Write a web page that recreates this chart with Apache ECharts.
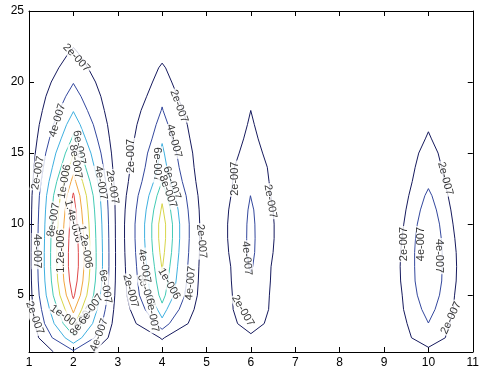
<!DOCTYPE html>
<html>
<head>
<meta charset="utf-8">
<script src="https://cdn.jsdelivr.net/npm/echarts@6/dist/echarts.min.js"></script>
<style>
html,body{margin:0;padding:0;background:#fff;}
#chart{width:482px;height:372px;}
</style>
</head>
<body>
<div id="chart"></div>
<script>
// ---- axis ticks ----
const xTicks = [1,2,3,4,5,6,7,8,9,10,11];
const yTicks = [5,10,15,20,25];

// ---- contour lines: rows of [y, xLeft, xRight] (data units) ----
// Peak at x = 2
const p1_2e7 = [[1,1.55,2.45],[2,1.218,2.782],[3,1.128,2.872],[4,1.091,2.909],[5,1.066,2.934],[6,1.055,2.945],[7,1.05,2.95],[8,1.05,2.95],[9,1.053,2.947],[10,1.055,2.945],[11,1.06,2.94],[12,1.068,2.932],[13,1.088,2.912],[14,1.114,2.886],[15,1.142,2.858],[16,1.184,2.816],[17,1.231,2.769],[18,1.302,2.698],[19,1.382,2.618],[20,1.501,2.499],[21,1.671,2.329],[22,1.883,2.117],[22.43,2,2]];
const p1_4e7 = [[1.1,2,2],[2,1.524,2.476],[3,1.351,2.649],[4,1.281,2.719],[5,1.229,2.771],[6,1.208,2.792],[7,1.199,2.801],[8,1.199,2.801],[9,1.202,2.798],[10,1.208,2.792],[11,1.218,2.782],[12,1.234,2.766],[13,1.272,2.728],[14,1.323,2.677],[15,1.378,2.622],[16,1.46,2.54],[17,1.55,2.45],[18,1.683,2.317],[19,1.83,2.17],[19.9,2,2]];
const p1_6e7 = [[1.615,2,2],[2,1.813,2.187],[3,1.567,2.433],[4,1.464,2.536],[5,1.388,2.612],[6,1.358,2.642],[7,1.344,2.656],[8,1.344,2.656],[9,1.35,2.65],[10,1.358,2.642],[11,1.373,2.627],[12,1.396,2.604],[13,1.451,2.549],[14,1.527,2.473],[15,1.605,2.395],[16,1.723,2.277],[17,1.847,2.153],[17.92,2,2]];
const p1_8e7 = [[2.17,2,2],[3,1.773,2.227],[4,1.642,2.358],[5,1.545,2.455],[6,1.505,2.495],[7,1.487,2.513],[8,1.487,2.513],[9,1.494,2.506],[10,1.505,2.495],[11,1.524,2.476],[12,1.553,2.447],[13,1.626,2.374],[14,1.723,2.277],[15,1.821,2.179],[16,1.961,2.039],[16.33,2,2]];
const p1_1e6 = [[2.83,2,2],[3,1.961,2.039],[4,1.813,2.187],[5,1.696,2.304],[6,1.648,2.352],[7,1.626,2.374],[8,1.626,2.374],[9,1.635,2.365],[10,1.648,2.352],[11,1.671,2.329],[12,1.706,2.294],[13,1.793,2.207],[14,1.906,2.094],[14.92,2,2]];
const p1_12e7 = [[3.75,2,2],[4,1.968,2.032],[5,1.841,2.159],[6,1.786,2.214],[7,1.761,2.239],[8,1.761,2.239],[9,1.77,2.23],[10,1.786,2.214],[11,1.813,2.187],[12,1.853,2.147],[13,1.948,2.052],[13.5,2,2]];
const p1_14e7 = [[4.75,2,2],[5,1.973,2.027],[6,1.916,2.084],[7,1.888,2.112],[8,1.888,2.112],[9,1.899,2.101],[10,1.916,2.084],[11,1.944,2.056],[12,1.984,2.016],[12.2,2,2]];
// Peak at x = 4
const p2_2e7 = [[1.875,4,4],[2,3.951,4.049],[3,3.415,4.585],[4,3.28,4.72],[5,3.206,4.794],[6,3.185,4.815],[7,3.172,4.828],[8,3.16,4.84],[9,3.153,4.847],[10,3.153,4.847],[11,3.166,4.834],[12,3.192,4.808],[13,3.24,4.76],[14,3.28,4.72],[15,3.312,4.688],[16,3.373,4.627],[17,3.433,4.567],[18,3.525,4.475],[19,3.653,4.347],[20,3.784,4.216],[21,3.922,4.078],[21.33,4,4]];
const p2_4e7 = [[2.6,4,4],[3,3.837,4.163],[4,3.617,4.383],[5,3.488,4.512],[6,3.448,4.552],[7,3.424,4.576],[8,3.402,4.598],[9,3.389,4.611],[10,3.389,4.611],[11,3.415,4.585],[12,3.459,4.541],[13,3.546,4.454],[14,3.617,4.383],[15,3.672,4.328],[16,3.772,4.228],[17,3.865,4.135],[18,3.979,4.021],[18.25,4,4]];
const p2_6e7 = [[3.4,4,4],[4,3.893,4.107],[5,3.736,4.264],[6,3.686,4.314],[7,3.652,4.348],[8,3.623,4.377],[9,3.605,4.395],[10,3.605,4.395],[11,3.64,4.36],[12,3.701,4.299],[13,3.81,4.19],[14,3.893,4.107],[15,3.951,4.049],[15.67,4,4]];
const p2_8e7 = [[4.44,4,4],[5,3.928,4.072],[6,3.869,4.131],[7,3.827,4.173],[8,3.788,4.212],[9,3.767,4.233],[10,3.767,4.233],[11,3.811,4.189],[12,3.885,4.115],[13,3.995,4.005],[13.11,4,4]];
const p2_1e6 = [[6.6,4,4],[7,3.989,4.011],[8,3.949,4.051],[9,3.922,4.078],[10,3.922,4.078],[11,3.974,4.026],[11.44,4,4]];
// Peak at x = 6
const p3_2e7 = [[2.29,6,6],[3,5.70,6.30],[4,5.60,6.40],[5,5.583,6.417],[6,5.56,6.44],[7,5.546,6.454],[8,5.5,6.5],[9,5.476,6.524],[10,5.476,6.524],[11,5.5,6.5],[12,5.551,6.449],[13,5.591,6.409],[14,5.63,6.37],[15,5.736,6.264],[16,5.836,6.164],[17,5.922,6.078],[18,5.997,6.003],[18.05,6,6]];
const p3_4e7 = [[6.6,6,6],[7,5.96,6.04],[8,5.915,6.085],[9,5.905,6.095],[10,5.91,6.09],[11,5.935,6.065],[12,5.99,6.01],[12.07,6,6]];
// Peak at x = 10
const p4_2e7 = [[1.33,10,10],[2,9.62,10.38],[3,9.52,10.48],[4,9.44,10.56],[5,9.41,10.59],[6,9.374,10.626],[7,9.364,10.636],[8,9.374,10.626],[9,9.404,10.596],[10,9.445,10.555],[11,9.494,10.506],[12,9.557,10.443],[13,9.636,10.364],[14,9.702,10.298],[15,9.782,10.218],[16,9.93,10.07],[16.5,10,10]];
const p4_4e7 = [[3.04,10,10],[4,9.85,10.15],[5,9.75,10.25],[6,9.70,10.30],[7,9.69,10.31],[8,9.69,10.31],[9,9.71,10.29],[10,9.75,10.25],[11,9.82,10.18],[12,9.92,10.08],[12.5,10,10]];

// ---- contour labels: text, x, y (data units), angle ----
const labelText = ['2e-007','4e-007','6e-007','8e-007','4e-007','2e-007','2e-007','1e-006','8e-007','4e-007','2e-007','1.2e-006','1.4e-006','1.2e-006','1e-006','8e-007','6e-007','4e-007','6e-007',
  '2e-007','4e-007','2e-007','6e-007','6e-007','8e-007','2e-007','4e-007','1e-006','6e-007','6e-007','4e-007','2e-007',
  '2e-007','2e-007','4e-007','2e-007',
  '2e-007','2e-007','4e-007','4e-007','2e-007'];
const labelX = [2.07,1.64,2.13,2.05,2.62,2.88,1.2,1.8,1.55,1.18,1.13,1.73,2.0,2.27,1.82,2.2,2.4,2.58,2.72,
  4.38,4.27,3.29,3.89,4.22,4.13,4.89,4.64,4.16,3.64,3.78,3.6,3.29,
  5.64,6.44,5.91,5.82,
  10.38,9.44,9.84,10.24,10.51];
const labelY = [21.7,17.3,15.4,14.4,12.9,12.6,13.6,13.0,10.3,8.1,3.4,8.1,10.2,8.4,3.45,3.2,4.0,2.2,5.6,
  18.3,15.85,14.8,14.2,12.9,12.3,8.8,5.85,5.8,5.3,3.6,7.05,5.3,
  13.2,11.6,7.6,3.9,
  13.2,8.6,8.6,7.75,3.4];
const labelAngle = [-47,73,-80,-80,-80,-80,80,80,80,-90,-70,90,-75,-80,-35,55,55,70,-80,
  -70,-75,90,-90,-70,-70,-85,85,-60,-70,-80,-80,-75,
  90,-80,-85,-60,
  -75,90,90,-90,65];

// ---- styling ----
const levelColor = {'2e-7':'#161a5e','4e-7':'#34489e','6e-7':'#3fb0e0','8e-7':'#43cbb5','1e-6':'#d8d64a','1.2e-6':'#f2a640','1.4e-6':'#e0484a'};
const contours = [
  [p1_2e7,'2e-7'],[p1_4e7,'4e-7'],[p1_6e7,'6e-7'],[p1_8e7,'8e-7'],[p1_1e6,'1e-6'],[p1_12e7,'1.2e-6'],[p1_14e7,'1.4e-6'],
  [p2_2e7,'2e-7'],[p2_4e7,'4e-7'],[p2_6e7,'6e-7'],[p2_8e7,'8e-7'],[p2_1e6,'1e-6'],
  [p3_2e7,'2e-7'],[p3_4e7,'4e-7'],
  [p4_2e7,'2e-7'],[p4_4e7,'4e-7']
];

function rowsToPath(rows){
  const left = rows.map(r => [r[1], r[0]]);
  const right = rows.slice().reverse().map(r => [r[2], r[0]]);
  return left.concat(right.slice(1));
}

const series = contours.map(c => ({
  type:'line', data: rowsToPath(c[0]), showSymbol:false, symbol:'none', smooth:false,
  lineStyle:{width:1, color: levelColor[c[1]]}, silent:true, animation:false, z:2, clip:true
}));

series.push({
  type:'scatter', symbolSize:0, z:5, animation:false, silent:true,
  data: labelText.map((t,i) => ({
    value:[labelX[i], labelY[i]], name:t,
    label:{rotate: labelAngle[i]}
  })),
  label:{show:true, position:'inside', formatter:p=>p.name, fontFamily:'Liberation Sans, Arial, sans-serif',
    fontSize:11, color:'#000', backgroundColor:'#fff', padding:[0,1,0,1]}
});

const axisFont = {fontFamily:'Liberation Sans, Arial, sans-serif', fontSize:12, color:'#000'};
const chart = echarts.init(document.getElementById('chart'), null, {renderer:'canvas'});
chart.setOption({
  backgroundColor:'#fff',
  animation:false,
  grid:{left:29, top:11, right:3, bottom:20, containLabel:false},
  xAxis:[
    {type:'value', min:1, max:11, interval:1, position:'bottom',
     axisLine:{show:true, lineStyle:{color:'#000', width:1}},
     axisTick:{show:true, inside:true, length:5, lineStyle:{color:'#000'}},
     axisLabel:Object.assign({margin:5, showMinLabel:true, showMaxLabel:true, formatter: v => xTicks.includes(v) ? String(v) : ''}, axisFont),
     splitLine:{show:false}},
    {type:'value', min:1, max:11, interval:1, position:'top',
     axisLine:{show:true, lineStyle:{color:'#000', width:1}},
     axisTick:{show:true, inside:true, length:5, lineStyle:{color:'#000'}},
     axisLabel:{show:false}, splitLine:{show:false}}
  ],
  yAxis:[
    {type:'value', min:1, max:25, position:'left',
     axisLine:{show:true, lineStyle:{color:'#000', width:1}},
     axisTick:{show:true, inside:true, length:5, lineStyle:{color:'#000'}, customValues:yTicks},
     axisLabel:Object.assign({margin:5, customValues:yTicks}, axisFont),
     splitLine:{show:false}},
    {type:'value', min:1, max:25, position:'right',
     axisLine:{show:true, lineStyle:{color:'#000', width:1}},
     axisTick:{show:true, inside:true, length:5, lineStyle:{color:'#000'}, customValues:yTicks},
     axisLabel:{show:false}, splitLine:{show:false}}
  ],
  series: series
});
</script>
</body>
</html>
